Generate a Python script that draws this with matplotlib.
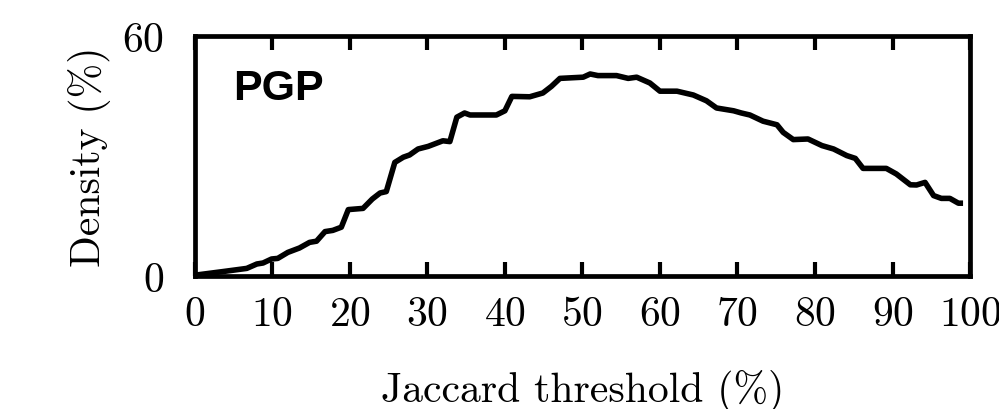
import numpy as np
import matplotlib.pyplot as plt

plt.rcParams['font.family'] = 'serif'
plt.rcParams['font.serif'] = ['cmr10']
plt.rcParams['mathtext.fontset'] = 'cm'
plt.rcParams['axes.formatter.use_mathtext'] = True

# values
thr = np.array([0, 0.2, 3.6, 6.7, 8.0, 8.8, 9.9, 10.7, 12, 13.5, 14.8, 15.7, 16.8, 17.8,
                18.9, 19.8, 21.7, 22.9, 23.9, 24.7, 25.8, 26.9, 27.7, 28.8, 30.1, 32,
                32.9, 33.8, 34.8, 35.5, 38.9, 40, 40.9, 43.2, 44.9, 46, 47.1, 50.1, 51,
                52, 54.4, 55.9, 57, 58.7, 60, 62.2, 64.3, 66, 67.3, 69.5, 70.5, 71.6,
                73.3, 75.1, 75.9, 77.2, 79.1, 80.9, 82.4, 84.1, 85.2, 86.2, 89.2, 90.5,
                92.3, 93.1, 94.2, 95.3, 96.3, 97.4, 98.5, 99.1])
density = np.array([0, 0.25, 1.1, 1.9, 3.0, 3.25, 4.25, 4.4, 5.9, 7.0, 8.4, 8.7, 11.1, 11.4,
                    12.2, 16.6, 16.9, 19.25, 20.75, 21.1, 28.4, 29.7, 30.25, 31.75, 32.4,
                    33.8, 33.6, 39.7, 40.75, 40.25, 40.25, 41.3, 44.9, 44.8, 45.75, 47.4,
                    49.4, 49.7, 50.5, 50.1, 50.1, 49.4, 49.7, 48.25, 46.2, 46.2, 45.25,
                    43.8, 42.0, 41.3, 40.75, 40.25, 38.7, 37.8, 35.9, 34.1, 34.25, 32.6,
                    31.75, 30.1, 29.4, 26.9, 26.9, 25.5, 22.8, 22.75, 23.4, 20.1, 19.4,
                    19.4, 18.2, 18.2])
xticks = np.arange(0, 101, 10)
yticks = [0, 60]

fig = plt.figure(figsize=(9.99, 4.10), dpi=100)
ax = fig.add_axes([0.195, 0.3244, 0.776, 0.5854])

ax.plot(thr, density, color='black', lw=4, solid_capstyle='butt', solid_joinstyle='round')

ax.set_xlim(0, 100)
ax.set_ylim(0, 60)
ax.set_xticks(xticks)
ax.set_yticks(yticks)
for s in ax.spines.values():
    s.set_linewidth(3.4)
ax.tick_params(axis='x', which='major', direction='in', top=True, bottom=True,
               length=10, width=3, pad=14, labelsize=30)
ax.tick_params(axis='y', which='major', length=0, pad=22, labelsize=30)

ax.set_xlabel('Jaccard threshold (%)', fontsize=30, labelpad=26)
ax.set_ylabel('Density (%)', fontsize=30, labelpad=8)

ax.text(0.049, 0.7375, 'PGP', transform=ax.transAxes, fontsize=31, fontweight='bold',
        family='Liberation Sans', va='baseline', ha='left')

fig.savefig('out.png', dpi=100)
